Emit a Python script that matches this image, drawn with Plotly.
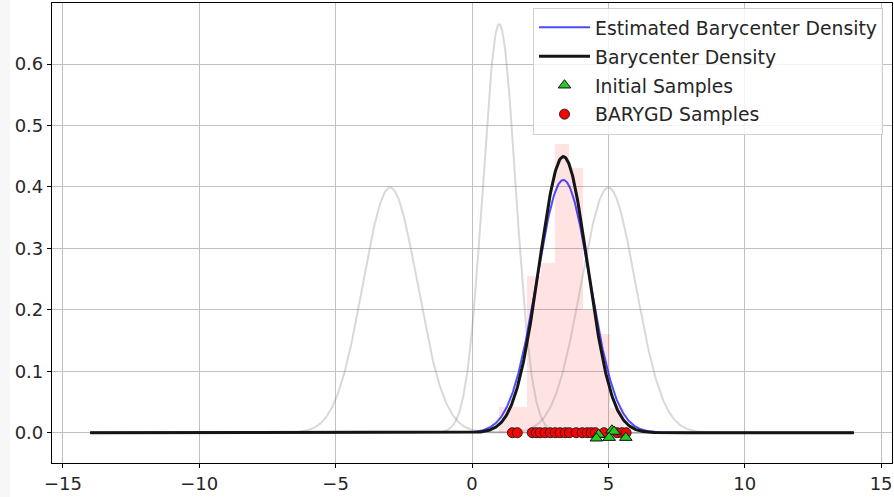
import numpy as np
import plotly.graph_objects as go

# ---- data ----
gray_means = [-3.0, 1.0, 5.0]          # input gaussians
gray_sds = [1.0, 0.6, 1.0]
bary_mean, bary_sd = 3.35, 0.888        # true barycenter density
est_mean, est_sd = 3.35, 0.97           # estimated barycenter density
x_min, x_max = -14.0, 14.0

bin_edges = [1.005, 1.514, 2.023, 2.531, 3.040, 3.549, 4.057, 4.566, 5.075, 5.583]
bin_heights = [0.042, 0.042, 0.255, 0.276, 0.47, 0.43, 0.20, 0.16, 0.04]

barygd_x = [1.48, 1.66, 2.21, 2.36, 2.50, 2.68, 2.87, 3.05, 3.23, 3.42, 3.57,
            3.82, 4.04, 4.22, 4.37, 4.52, 4.84, 5.32, 5.50, 5.65]
barygd_y = [0.0] * len(barygd_x)
init_x = [4.64, 5.13, 5.21, 5.03, 5.64, 4.56]
init_y = [-0.003, 0.004, 0.002, -0.008, -0.008, -0.009]

x_ticks = [-15, -10, -5, 0, 5, 10, 15]
y_ticks = [0.0, 0.1, 0.2, 0.3, 0.4, 0.5, 0.6]
x_range = [-15.4, 15.4]
y_range = [-0.0493, 0.6993]


def gauss(x, m, s):
    return np.exp(-0.5 * ((x - m) / s) ** 2) / (s * np.sqrt(2 * np.pi))


xs = np.linspace(x_min, x_max, 1200)

fig = go.Figure()

# histogram of BARYGD samples (density)
centers = [(bin_edges[i] + bin_edges[i + 1]) / 2 for i in range(len(bin_heights))]
widths = [bin_edges[i + 1] - bin_edges[i] for i in range(len(bin_heights))]
fig.add_trace(go.Bar(x=centers, y=bin_heights, width=widths,
                     marker=dict(color="rgba(255,0,0,0.11)", line=dict(width=0)),
                     showlegend=False, hoverinfo="skip"))

for m, s in zip(gray_means, gray_sds):
    fig.add_trace(go.Scatter(x=xs, y=gauss(xs, m, s), mode="lines",
                             line=dict(color="rgba(128,128,128,0.3)", width=2),
                             showlegend=False, hoverinfo="skip"))

fig.add_trace(go.Scatter(x=xs, y=gauss(xs, est_mean, est_sd), mode="lines",
                         name="Estimated Barycenter Density", legendgroup="a",
                         line=dict(color="rgba(0,0,255,0.7)", width=2)))
fig.add_trace(go.Scatter(x=xs, y=gauss(xs, bary_mean, bary_sd), mode="lines",
                         name="Barycenter Density", legendgroup="b",
                         line=dict(color="#151515", width=3)))

fig.add_trace(go.Scatter(x=barygd_x, y=barygd_y, mode="markers",
                         name="BARYGD Samples", legendgroup="d",
                         marker=dict(symbol="circle", size=10, color="#ff0000",
                                     line=dict(color="#222222", width=1))))
fig.add_trace(go.Scatter(x=init_x, y=init_y, mode="markers",
                         name="Initial Samples", legendgroup="c",
                         marker=dict(symbol="triangle-up", size=11, color="#22cc22",
                                     line=dict(color="#111111", width=1))))

fig.data[4].legendrank = 1
fig.data[5].legendrank = 2
fig.data[7].legendrank = 3
fig.data[6].legendrank = 4

axis_common = dict(showline=True, linecolor="black", linewidth=1.2, mirror=True,
                   ticks="outside", ticklen=4, tickcolor="black",
                   showgrid=True, gridcolor="#c0c0c0", gridwidth=1,
                   zeroline=False, automargin=False,
                   tickfont=dict(size=18, color="#262626"))

fig.update_layout(
    width=894, height=497,
    margin=dict(l=52, r=2, t=3, b=34),
    paper_bgcolor="white", plot_bgcolor="white",
    font=dict(family="DejaVu Sans", size=18, color="#262626"),
    xaxis=dict(range=x_range, tickvals=x_ticks, **axis_common),
    yaxis=dict(range=y_range, tickvals=y_ticks, tickformat=".1f", **axis_common),
    legend=dict(x=0.9893, y=0.99, xanchor="right", yanchor="top",
                bgcolor="rgba(255,255,255,0.8)", bordercolor="#d0d0d0", borderwidth=1,
                font=dict(size=18.8, color="#262626"), itemwidth=51,
                traceorder="grouped", tracegroupgap=1.5),
    barmode="overlay", bargap=0,
    shapes=[dict(type="rect", xref="paper", yref="paper",
                 x0=-52 / 840, x1=-42 / 840, y0=-34 / 460, y1=1 + 3 / 460,
                 fillcolor="#f7f7f7", line=dict(width=0), layer="below")],
)

fig.write_html("out.html", config={"displayModeBar": False},
               post_script="document.body.style.margin='0';document.body.style.overflow='hidden';")
